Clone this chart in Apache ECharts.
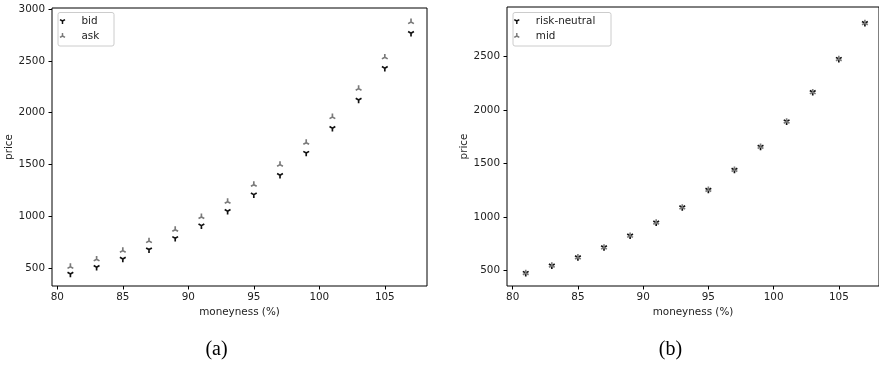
<!DOCTYPE html>
<html>
<head>
<meta charset="utf-8">
<script src="https://cdn.jsdelivr.net/npm/echarts@6/dist/echarts.min.js"></script>
<style>
  html, body { margin: 0; padding: 0; background: #fff; }
  #chart { width: 879px; height: 365px; }
</style>
</head>
<body>
<div id="chart"></div>
<script>
// Option prices against moneyness for 14 strikes
const moneyness = [81, 83, 85, 87, 89, 91, 93, 95, 97, 99, 101, 103, 105, 107];
const bid = [445, 510, 590, 680, 789, 911, 1050, 1210, 1397, 1611, 1850, 2123, 2429, 2766];
const ask = [515, 587, 670, 763, 872, 995, 1142, 1306, 1499, 1711, 1959, 2232, 2535, 2875];
const riskNeutral = [478, 547, 624, 717, 827, 949, 1091, 1255, 1442, 1657, 1894, 2168, 2478, 2814];
const mid = [478, 547, 624, 717, 827, 949, 1091, 1255, 1442, 1657, 1894, 2168, 2478, 2814];

const xTicks = [80, 85, 90, 95, 100, 105];
const yTicksA = [500, 1000, 1500, 2000, 2500, 3000];
const yTicksB = [500, 1000, 1500, 2000, 2500];

const FONT = 'DejaVu Sans';
const FS = 10.4;
const INK = '#222';
const DARK = '#111';
const GREY = '#7a7a7a';

// Three-armed marker built from thick spokes (angles in screen degrees)
function spokes(angles) {
  const w = 0.5, R = 1.2;
  const f = v => v.toFixed(3);
  let p = `M${f(-R)} ${f(-R)} M${f(R)} ${f(R)} `;
  angles.forEach(a => {
    const t = a * Math.PI / 180;
    const dx = Math.cos(t), dy = Math.sin(t);
    const nx = -dy * w / 2, ny = dx * w / 2;
    p += `M${f(nx)} ${f(ny)} L${f(nx + dx)} ${f(ny + dy)} L${f(-nx + dx)} ${f(-ny + dy)} L${f(-nx)} ${f(-ny)} Z `;
  });
  return 'path://' + p.trim();
}
const triDown = spokes([90, 210, 330]);
const triUp = spokes([270, 150, 30]);

const pairs = ys => moneyness.map((x, i) => [x, ys[i]]);
const plain = v => String(v);

function xAxisFor(gridIndex, min, max) {
  return {
    type: 'value', gridIndex, min, max,
    name: 'moneyness (%)', nameLocation: 'middle', nameGap: 20,
    nameTextStyle: { fontFamily: FONT, fontSize: FS, color: INK },
    splitLine: { show: false },
    axisLine: { show: false },
    axisTick: { show: true, length: 3.5, lineStyle: { color: '#000', width: 1 }, customValues: xTicks },
    axisLabel: { fontFamily: FONT, fontSize: FS, color: INK, margin: 6, customValues: xTicks, formatter: plain }
  };
}
function yAxisFor(gridIndex, min, max, ticks) {
  return {
    type: 'value', gridIndex, min, max,
    name: 'price', nameLocation: 'middle', nameGap: 37, nameRotate: 90,
    nameTextStyle: { fontFamily: FONT, fontSize: FS, color: INK },
    splitLine: { show: false },
    axisLine: { show: false },
    axisTick: { show: true, length: 3.5, lineStyle: { color: '#000', width: 1 }, customValues: ticks },
    axisLabel: { fontFamily: FONT, fontSize: FS, color: INK, margin: 7, customValues: ticks, formatter: plain }
  };
}
function scatter(name, xi, yi, ys, symbol, color, z) {
  return {
    type: 'scatter', name, xAxisIndex: xi, yAxisIndex: yi,
    data: pairs(ys), symbol, symbolSize: 8, symbolKeepAspect: true,
    itemStyle: { color, opacity: 1 }, z
  };
}
function legendFor(left, names, icons) {
  return {
    orient: 'vertical', left, top: 15, padding: 0, itemGap: 3,
    itemWidth: 28, itemHeight: 7,
    textStyle: { fontFamily: FONT, fontSize: FS, color: INK, lineHeight: 12 },
    data: names.map((n, i) => ({ name: n, icon: icons[i] })),
    selectedMode: false
  };
}

const chart = echarts.init(document.getElementById('chart'), null, { renderer: 'canvas' });
chart.setOption({
  animation: false,
  backgroundColor: '#fff',
  grid: [
    { left: 52, top: 8, width: 375, height: 278, show: true, borderColor: '#000', borderWidth: 1, backgroundColor: 'transparent' },
    { left: 507, top: 7, width: 373, height: 279, show: true, borderColor: '#000', borderWidth: 1, backgroundColor: 'transparent' }
  ],
  xAxis: [xAxisFor(0, 79.595, 108.22), xAxisFor(1, 79.564, 108.08)],
  yAxis: [yAxisFor(0, 328.8, 3009.6, yTicksA), yAxisFor(1, 357, 2964.5, yTicksB)],
  legend: [
    legendFor(59, ['bid', 'ask'], [triDown, triUp]),
    legendFor(513.3, ['risk-neutral', 'mid'], [triDown, triUp])
  ],
  graphic: [
    { type: 'rect', shape: { x: 58, y: 12.5, width: 56, height: 33.5, r: 2 }, style: { fill: '#fff', stroke: '#ccc', lineWidth: 1 }, z: 0 },
    { type: 'rect', shape: { x: 513, y: 12.5, width: 98, height: 33.5, r: 2 }, style: { fill: '#fff', stroke: '#ccc', lineWidth: 1 }, z: 0 },
    { type: 'text', x: 216.5, y: 350, style: { text: '(a)', font: '20px "Liberation Serif"', fill: '#000', textAlign: 'center', textVerticalAlign: 'middle' } },
    { type: 'text', x: 670.5, y: 350, style: { text: '(b)', font: '20px "Liberation Serif"', fill: '#000', textAlign: 'center', textVerticalAlign: 'middle' } }
  ],
  series: [
    scatter('bid', 0, 0, bid, triDown, DARK, 2),
    scatter('ask', 0, 0, ask, triUp, GREY, 3),
    scatter('risk-neutral', 1, 1, riskNeutral, triDown, DARK, 2),
    scatter('mid', 1, 1, mid, triUp, GREY, 3)
  ]
});
</script>
</body>
</html>
